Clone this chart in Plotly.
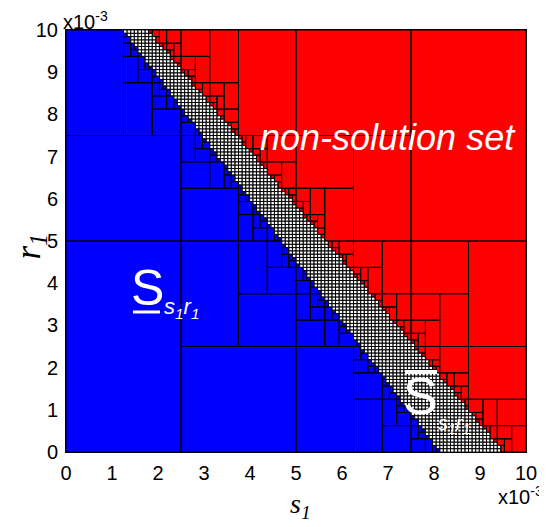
import plotly.graph_objects as go

# Domain of the paving (units of 1e-3)
S_RANGE = [0.0, 10.0]
R_RANGE = [0.0, 10.0]
# Constraint intercepts: s/a + r/b <= 1
INNER_A, INNER_B = 8.2, 11.9    # boundary of the solution set (blue)
OUTER_A, OUTER_B = 9.45, 12.2   # boundary of the non-solution set (red)
EPS = 0.1                       # smallest box width
TICKS = [0, 1, 2, 3, 4, 5, 6, 7, 8, 9, 10]
TICK_LABELS = [str(t) for t in TICKS]

inner, outer, boundary = [], [], []

def sivia(x0, x1, y0, y1):
    if x1 / INNER_A + y1 / INNER_B <= 1:
        inner.append((x0, x1, y0, y1))
    elif x0 / OUTER_A + y0 / OUTER_B > 1:
        outer.append((x0, x1, y0, y1))
    elif max(x1 - x0, y1 - y0) < EPS:
        boundary.append((x0, x1, y0, y1))
    elif (x1 - x0) >= (y1 - y0):
        xm = (x0 + x1) / 2
        sivia(x0, xm, y0, y1)
        sivia(xm, x1, y0, y1)
    else:
        ym = (y0 + y1) / 2
        sivia(x0, x1, y0, ym)
        sivia(x0, x1, ym, y1)

sivia(S_RANGE[0], S_RANGE[1], R_RANGE[0], R_RANGE[1])

def poly(boxes):
    xs, ys = [], []
    for (x0, x1, y0, y1) in boxes:
        xs += [x0, x1, x1, x0, x0, None]
        ys += [y0, y0, y1, y1, y0, None]
    return xs, ys

fig = go.Figure()
for boxes, col in [(inner, "#0000FF"), (outer, "#FF0000"), (boundary, "#FFFFFF")]:
    xs, ys = poly(boxes)
    fig.add_trace(go.Scatter(x=xs, y=ys, mode="lines", fill="toself",
                             fillcolor=col, line=dict(width=0, color=col),
                             hoverinfo="skip", showlegend=False))
xs, ys = poly(boundary)
fig.add_trace(go.Scatter(x=xs, y=ys, mode="lines",
                         line=dict(width=0.8, color="#000000"),
                         hoverinfo="skip", showlegend=False))
xs, ys = poly(inner + outer)
fig.add_trace(go.Scatter(x=xs, y=ys, mode="lines",
                         line=dict(width=1, color="#000000"),
                         hoverinfo="skip", showlegend=False))

tickfont = dict(family="Liberation Sans", size=20, color="#000")
fig.update_xaxes(range=S_RANGE, tickvals=TICKS, ticktext=TICK_LABELS,
                 showgrid=False, zeroline=False, ticks="outside", ticklen=3,
                 tickcolor="rgba(0,0,0,0)", showline=True,
                 linecolor="#000", linewidth=1, mirror=True, tickfont=tickfont,
                 automargin=False)
fig.update_yaxes(range=R_RANGE, tickvals=TICKS, ticktext=TICK_LABELS,
                 showgrid=False, zeroline=False, ticks="outside", ticklen=3,
                 tickcolor="rgba(0,0,0,0)", showline=True,
                 linecolor="#000", linewidth=1, mirror=True, tickfont=tickfont,
                 automargin=False)

expfont = dict(family="Liberation Sans", size=20, color="#000")
ann = [
    dict(x=0, y=1, xref="paper", yref="paper", xanchor="left", yanchor="bottom",
         text="x10<sup>-3</sup>", showarrow=False, font=expfont, yshift=-4, xshift=-4,
         borderpad=0),
    dict(x=1, y=0, xref="paper", yref="paper", xanchor="right", yanchor="top",
         text="x10<sup>-3</sup>", showarrow=False, font=expfont, yshift=-30, xshift=18,
         borderpad=0),
    dict(x=0.5, y=0, xref="paper", yref="paper", xanchor="center", yanchor="top",
         text="<i>s</i><sub><i>1</i></sub>", showarrow=False, yshift=-34, xshift=4,
         font=dict(family="Liberation Serif", size=28, color="#000")),
    dict(x=0, y=0.5, xref="paper", yref="paper", xanchor="right", yanchor="middle",
         text="<i>r</i><sub><i>1</i></sub>", showarrow=False, xshift=-14, yshift=-6,
         textangle=-90, borderpad=0,
         font=dict(family="Liberation Serif", size=35, color="#000")),
    dict(x=7.0, y=7.45, text="<i>non-solution set</i>", showarrow=False,
         font=dict(family="Liberation Sans", size=36, color="#FFF")),
    dict(x=1.78, y=3.88, text="S", showarrow=False, borderpad=0,
         font=dict(family="Liberation Sans", size=50, color="#FFF")),
    dict(x=2.1, y=3.42, text="<i>s<sub>1</sub>r<sub>1</sub></i>", showarrow=False,
         xanchor="left", borderpad=0,
         font=dict(family="Liberation Sans", size=22, color="#FFF")),
    dict(x=7.7, y=1.33, text="S", showarrow=False, borderpad=0,
         font=dict(family="Liberation Sans", size=52, color="#FFF")),
    dict(x=8.06, y=0.64, text="<i>s<sub>1</sub>r<sub>1</sub></i>", showarrow=False,
         xanchor="left", borderpad=0,
         font=dict(family="Liberation Sans", size=20, color="#FFF")),
]
# underline / overline bars of the set symbols
shapes = [
    dict(type="line", xref="paper", yref="paper", x0=0.1457, x1=0.2043,
         y0=0.3318, y1=0.3318, line=dict(color="#FFF", width=3)),
    dict(type="line", xref="paper", yref="paper", x0=0.737, x1=0.8065,
         y0=0.1896, y1=0.1896, line=dict(color="#FFF", width=4)),
]
fig.update_layout(width=539, height=519, margin=dict(l=58, r=21, t=22, b=75),
                  plot_bgcolor="#FFF", paper_bgcolor="#FFF", annotations=ann,
                  shapes=shapes)
fig.write_html("out.html")
